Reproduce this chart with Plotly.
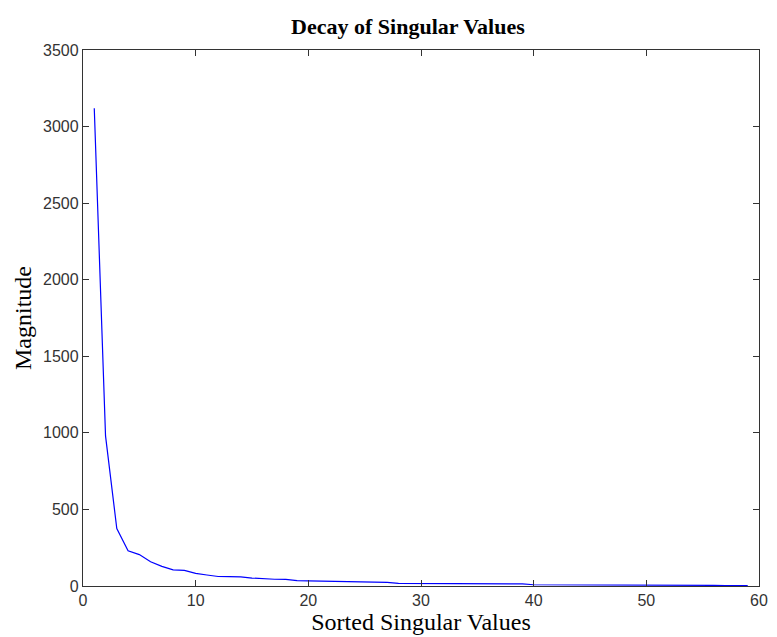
import plotly.graph_objects as go

index = list(range(1, 60))
magnitude = [3120, 980, 375, 230, 205, 158, 128, 105, 102, 82,
             72, 62, 61, 60, 52, 46, 44, 43, 35, 34,
             33, 32, 27, 26, 26, 25, 24, 17, 17, 16,
             16, 16, 15, 15, 15, 15, 14, 14, 14, 8,
             8, 7, 7, 7, 6, 6, 6, 6, 5, 5,
             5, 5, 4, 4, 4, 4, 3, 3, 3]

x_ticks = [0, 10, 20, 30, 40, 50, 60]
y_ticks = [0, 500, 1000, 1500, 2000, 2500, 3000, 3500]

fig = go.Figure()
fig.add_trace(go.Scatter(x=index, y=magnitude, mode="lines",
                         line=dict(color="#0000ff", width=1.2),
                         showlegend=False, hoverinfo="skip"))

tickfont = dict(family="Liberation Sans, Arial", size=16, color="#333")
axis_common = dict(showgrid=False, zeroline=False, showline=True, linecolor="#333",
                   linewidth=1.3, mirror="ticks", ticks="inside", ticklen=6,
                   tickcolor="#333", tickwidth=1.3, tickfont=tickfont)

serif = "Liberation Serif, Times New Roman"
fig.update_layout(
    width=777, height=637,
    margin=dict(l=83, r=9, t=50, b=50),
    paper_bgcolor="white", plot_bgcolor="white",
    title=dict(text="<b>Decay of Singular Values</b>", x=0.525, xanchor="center",
               y=0.958, yanchor="middle",
               font=dict(family=serif, size=22, color="black")),
    xaxis=dict(range=[0, 60], tickvals=x_ticks, ticktext=[str(v) for v in x_ticks],
               title=dict(text="Sorted Singular Values", standoff=2,
                          font=dict(family=serif, size=24, color="black")),
               **axis_common),
    yaxis=dict(range=[0, 3500], tickvals=y_ticks, ticktext=[str(v) for v in y_ticks],
               title=dict(text="Magnitude", standoff=4,
                          font=dict(family=serif, size=24, color="black")),
               **axis_common),
)

fig.write_html("out.html")
